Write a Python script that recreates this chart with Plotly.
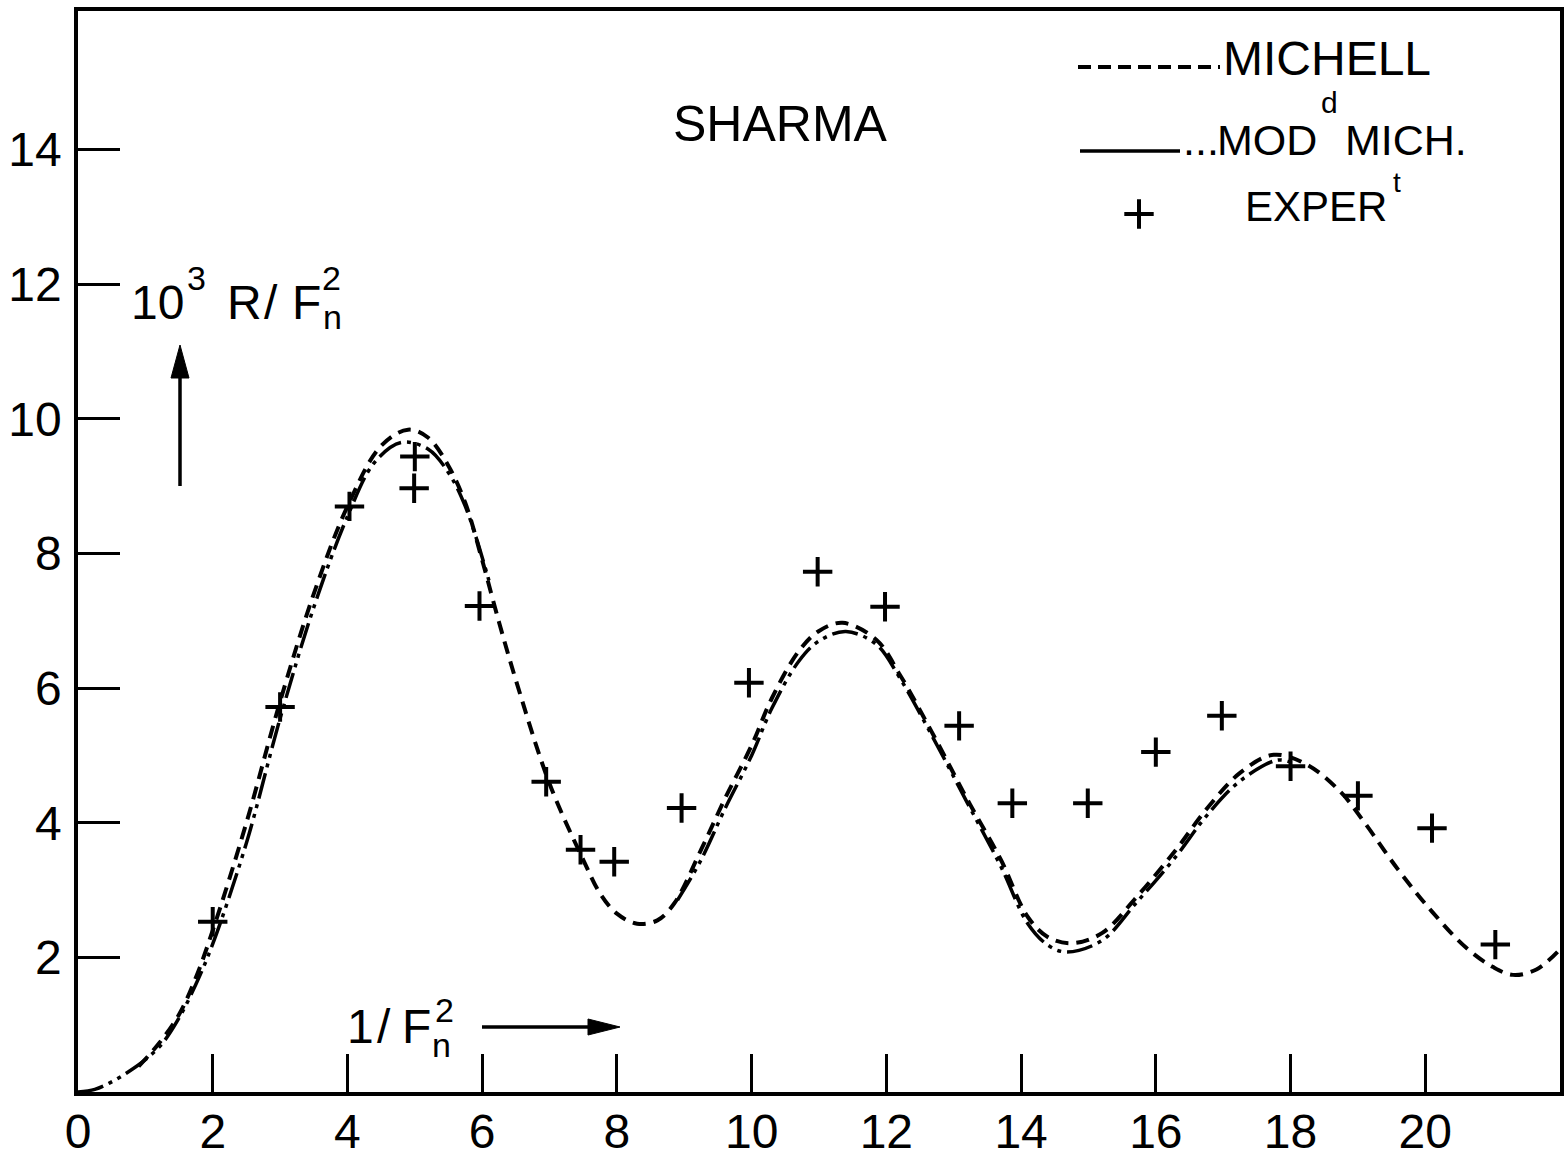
import plotly.graph_objects as go

# Michell theory curve (dashed)
michell_x = [0.9, 1.2, 1.5, 1.75, 2.0, 2.5, 3.0, 3.5, 4.0, 4.5, 4.9, 5.2, 5.5, 5.75, 6.0, 6.25, 6.5,
             7.0, 7.5, 7.75, 8.0, 8.3, 8.6, 8.85, 9.25, 9.6, 10.0, 10.3, 10.7, 11.0, 11.35, 11.85,
             12.2, 12.7, 13.2, 13.7, 14.1, 14.4, 14.75, 15.2, 15.7, 16.3, 16.75, 17.25, 17.75,
             18.25, 18.75, 19.1, 19.6, 20.1, 20.6, 21.0, 21.3, 21.65, 22.0]
michell_y = [0.38, 0.72, 1.15, 1.7, 2.4, 4.0, 5.8, 7.4, 8.7, 9.6, 9.84, 9.72, 9.3, 8.75, 7.9, 6.98, 6.12,
             4.58, 3.45, 2.95, 2.65, 2.5, 2.55, 2.8, 3.6, 4.35, 5.15, 5.85, 6.55, 6.85, 6.97, 6.72,
             6.2, 5.3, 4.35, 3.45, 2.6, 2.3, 2.21, 2.36, 2.88, 3.6, 4.2, 4.74, 5.01,
             4.86, 4.45, 4.0, 3.3, 2.68, 2.15, 1.86, 1.74, 1.82, 2.12]

# Modified Michell curve (long dash, two dots); it runs under the Michell curve between 6.1 and 8.9
mod_x = [0.0, 0.25, 0.5, 0.75, 1.0, 1.25, 1.5, 1.75, 2.0, 2.5, 3.0, 3.5, 4.0, 4.4, 4.8, 5.2, 5.5, 5.75, 6.1,
         None,
         8.9, 9.25, 9.6, 10.0, 10.3, 10.7, 11.0, 11.4, 11.85, 12.2, 12.7, 13.2, 13.7, 14.1, 14.4, 14.67,
         15.2, 15.7, 16.3, 16.75, 17.25, 17.8, 18.0]
mod_y = [0.0, 0.04, 0.15, 0.3, 0.48, 0.72, 1.1, 1.6, 2.2, 3.7, 5.55, 7.2, 8.55, 9.35, 9.65, 9.55, 9.2, 8.7, 7.6,
         None,
         2.85, 3.45, 4.2, 5.0, 5.7, 6.4, 6.7, 6.84, 6.65, 6.15, 5.25, 4.3, 3.35, 2.5, 2.18, 2.08,
         2.25, 2.8, 3.5, 4.1, 4.62, 4.93, 4.9]

# Experimental points
exp_x = [2.0, 3.0, 4.03, 5.0, 4.99, 5.96, 6.95, 7.46, 7.96, 8.96, 9.96, 10.98, 11.98,
         13.08, 13.87, 14.99, 16.0, 16.98, 18.0, 19.0, 20.1, 21.04]
exp_y = [2.53, 5.72, 8.7, 9.44, 8.97, 7.22, 4.61, 3.6, 3.42, 4.22, 6.08, 7.73, 7.21,
         5.44, 4.29, 4.29, 5.05, 5.59, 4.84, 4.4, 3.92, 2.19]

x_tickvals = [0, 2, 4, 6, 8, 10, 12, 14, 16, 18, 20]
x_ticktext = ["0", "2", "4", "6", "8", "10", "12", "14", "16", "18", "20"]
y_tickvals = [2, 4, 6, 8, 10, 12, 14]
y_ticktext = ["2", "4", "6", "8", "10", "12", "14"]

W, H = 1564, 1160
L, R, T, B = 78, 1560, 11, 1092
XMAX, YMAX = 22.0, 16.06


def X(px):
    return (px - L) / (R - L) * XMAX


def Y(py):
    return (B - py) / (B - T) * YMAX


FONT = "Liberation Sans"
INK = "black"

fig = go.Figure()

fig.add_trace(go.Scatter(
    x=michell_x, y=michell_y, mode="lines",
    line=dict(color=INK, width=4, dash="13px,8px", shape="spline", smoothing=1.0),
    hoverinfo="skip"))

fig.add_trace(go.Scatter(
    x=mod_x, y=mod_y, mode="lines", connectgaps=False,
    line=dict(color=INK, width=3.5, dash="26px,6px,4px,6px,4px,6px", shape="spline", smoothing=1.0),
    hoverinfo="skip"))

fig.add_trace(go.Scatter(
    x=exp_x, y=exp_y, mode="markers",
    marker=dict(symbol="cross-thin", size=21, line=dict(color=INK, width=4)),
    hoverinfo="skip"))

# legend sample marker for the experiments
fig.add_trace(go.Scatter(
    x=[X(1139)], y=[Y(214)], mode="markers", cliponaxis=False,
    marker=dict(symbol="cross-thin", size=21, line=dict(color=INK, width=4)),
    hoverinfo="skip"))

shapes = []
# legend line samples
shapes.append(dict(type="line", xref="x", yref="y", x0=X(1078), x1=X(1220), y0=Y(67), y1=Y(67),
                   line=dict(color=INK, width=4, dash="13px,7px")))
shapes.append(dict(type="line", xref="x", yref="y", x0=X(1080), x1=X(1180), y0=Y(151), y1=Y(151),
                   line=dict(color=INK, width=3.5)))

# axis-direction arrows
shapes.append(dict(type="line", xref="x", yref="y", x0=X(180), x1=X(180), y0=Y(486), y1=Y(372),
                   line=dict(color=INK, width=3.5)))
shapes.append(dict(type="path", xref="x", yref="y",
                   path=f"M {X(171)},{Y(378)} L {X(180)},{Y(345)} L {X(189)},{Y(378)} Z",
                   fillcolor=INK, line=dict(color=INK, width=1)))
shapes.append(dict(type="line", xref="x", yref="y", x0=X(482), x1=X(592), y0=Y(1027), y1=Y(1027),
                   line=dict(color=INK, width=3.5)))
shapes.append(dict(type="path", xref="x", yref="y",
                   path=f"M {X(588)},{Y(1019)} L {X(620)},{Y(1027)} L {X(588)},{Y(1035)} Z",
                   fillcolor=INK, line=dict(color=INK, width=1)))

annotations = []


def text(s, px, py, size, xanchor="left"):
    annotations.append(dict(text=s, x=X(px), y=Y(py), xref="x", yref="y", showarrow=False,
                            xanchor=xanchor, yanchor="middle", borderpad=0,
                            font=dict(family=FONT, size=size, color=INK)))


text("SHARMA", 780, 124, 50, xanchor="center")

text("MICHELL", 1222, 58, 48)
text("...", 1182, 140, 43)
text("MOD", 1216, 140, 43)
text("d", 1320, 102, 30)
text("MICH.", 1344, 140, 43)
text("EXPER", 1244, 206, 42)
text("t", 1392, 182, 28)

# y-axis quantity
text("10", 130, 302, 48)
text("3", 186, 278, 34)
text("R", 226, 302, 48)
text("/", 263, 302, 48)
text("F", 291, 302, 48)
text("2", 321, 278, 34)
text("n", 322, 317, 34)

# x-axis quantity
text("1", 346, 1026, 48)
text("/", 376, 1026, 48)
text("F", 401, 1026, 48)
text("2", 434, 1010, 34)
text("n", 431, 1045, 34)

fig.update_layout(
    width=W, height=H,
    margin=dict(l=L, r=W - R, t=T, b=H - B, pad=0),
    paper_bgcolor="white", plot_bgcolor="white",
    showlegend=False,
    shapes=shapes, annotations=annotations,
    font=dict(family=FONT, color=INK),
    xaxis=dict(range=[0, XMAX], tickvals=x_tickvals, ticktext=x_ticktext,
               ticks="inside", ticklen=38, tickwidth=3, tickcolor=INK,
               showline=True, linewidth=3.5, linecolor=INK, mirror=True,
               showgrid=False, zeroline=False, ticklabelstandoff=-5, automargin=False,
               tickfont=dict(family=FONT, size=48, color=INK)),
    yaxis=dict(range=[0, YMAX], tickvals=y_tickvals, ticktext=y_ticktext,
               ticks="inside", ticklen=42, tickwidth=3, tickcolor=INK,
               showline=True, linewidth=3.5, linecolor=INK, mirror=True,
               showgrid=False, zeroline=False, ticklabelstandoff=3, automargin=False,
               tickfont=dict(family=FONT, size=48, color=INK)),
)

fig.write_html("out.html")
